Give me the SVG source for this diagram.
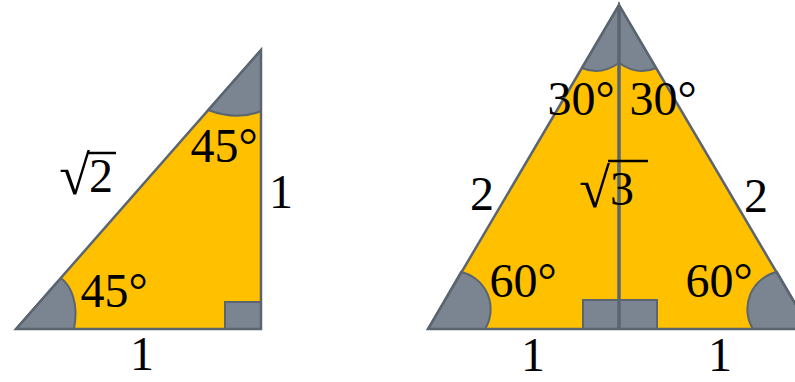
<svg xmlns="http://www.w3.org/2000/svg" width="795" height="382" viewBox="0 0 795 382">
<style>
.tri{fill:#FFC000;stroke:none}
.edge{fill:none;stroke:#5B6570;stroke-width:2.5;stroke-linejoin:miter}
.ang{fill:#7A8591;stroke:#5B6570;stroke-width:2}
.t{font-family:"Liberation Serif","Times New Roman",serif;font-size:48px;fill:#000;text-anchor:middle}
.rad{font-family:"Liberation Serif","Times New Roman",serif;font-size:56px;fill:#000;text-anchor:end}
.s{text-anchor:start}
.bar{stroke:#000;stroke-width:2.5}
</style>
<rect width="795" height="382" fill="#fff"/>
<g id="left-triangle">
<polygon class="tri" points="16,329 261,50 261,329"/>
<path class="ang" d="M261,50 L208,110 Q237,121 261,111 Z"/>
<path class="ang" d="M16,329 L61,278 C71,286 79,303 74,329 Z"/>
<rect class="ang" x="225" y="302" width="36" height="27"/>
<polygon class="edge" points="16,329 261,50 261,329"/>
<text class="t" x="224" y="162">45°</text>
<text class="t" x="114" y="307">45°</text>
<text class="rad" x="90" y="194">√</text>
<text class="t s" x="89" y="192">2</text>
<line class="bar" x1="88" y1="153" x2="116" y2="153"/>
<text class="t" x="281" y="208">1</text>
<text class="t" x="142" y="370">1</text>
</g>
<g id="right-triangle">
<polygon class="tri" points="619,5 428,329 810,329"/>
<path class="ang" d="M619,5 L582,68 Q600,76 619,63 Z"/>
<path class="ang" d="M619,5 L656,68 Q638,76 619,63 Z"/>
<path class="ang" d="M428,329 L461,272 A38,38 0 0 1 485,329 Z"/>
<path class="ang" d="M810,329 L777,272 A38,38 0 0 0 753,329 Z"/>
<rect class="ang" x="583" y="300" width="74" height="29"/>
<polygon class="edge" points="619,5 428,329 810,329"/>
<text class="t" x="581" y="115">30°</text>
<text class="t" x="663" y="115">30°</text>
<text class="t" x="482" y="210">2</text>
<text class="t" x="756" y="212">2</text>
<text class="t" x="523" y="297">60°</text>
<text class="t" x="719" y="297">60°</text>
<text class="t" x="533" y="371">1</text>
<text class="t" x="720" y="371">1</text>
</g>
<g id="connectors">
<line x1="619" y1="5" x2="619" y2="329" stroke="#5B6570" stroke-width="3.5"/>
</g>
<g id="sqrt3-label">
<text class="rad" x="610" y="207">√</text>
<text class="t s" x="610" y="205">3</text>
<line class="bar" x1="608" y1="161" x2="648" y2="161"/>
</g>
</svg>
